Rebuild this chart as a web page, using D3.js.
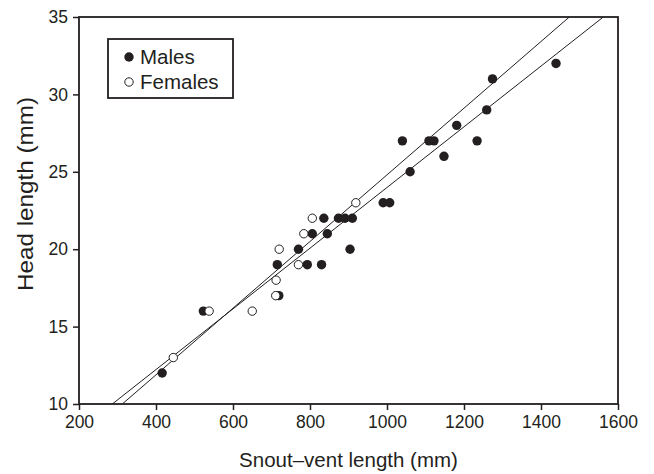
<!DOCTYPE html>
<html>
<head>
<meta charset="utf-8">
<script src="https://cdn.jsdelivr.net/npm/d3@7"></script>
<style>
  html, body { margin: 0; padding: 0; background: #fff; }
  svg { display: block; font-family: "Liberation Sans", Arial, Helvetica, sans-serif; }
</style>
</head>
<body>
<svg id="chart" width="654" height="474"></svg>
<script>
// ---- data ----
const malesSVL  = [416, 523, 719, 715, 770, 793, 830, 806, 845, 836, 874, 891, 910, 904, 990, 1007, 1060, 1040, 1109, 1122, 1148, 1181, 1234, 1259, 1274, 1439];
const malesHL   = [12,  16,  17,  19,  20,  19,  19,  21,  21,  22,  22,  22,  22,  20,  23,  23,   25,   27,   27,   27,   26,   28,   27,   29,   31,   32];
const femalesSVL = [445, 538, 650, 711, 712, 720, 770, 784, 806, 919];
const femalesHL  = [13,  16,  16,  17,  18,  20,  19,  21,  22,  23];
// regression fits: head = intercept + slope * svl
const fitSlopes     = [0.021533, 0.019603];
const fitIntercepts = [3.271, 4.384];
const xTicks = [200, 400, 600, 800, 1000, 1200, 1400, 1600];
const yTicks = [10, 15, 20, 25, 30, 35];
const seriesNames = ["Males", "Females"];

// ---- layout ----
const ink = "#231f20";
const svg = d3.select("#chart");
const L = 79, R = 618, T = 17, B = 404;
const x = d3.scaleLinear().domain([200, 1600]).range([L, R]);
const y = d3.scaleLinear().domain([10, 35]).range([B, T]);

svg.append("defs").append("clipPath").attr("id", "plotclip")
  .append("rect").attr("x", L).attr("y", T).attr("width", R - L).attr("height", B - T);

// regression lines
const fits = fitSlopes.map((s, i) => ({ s, b: fitIntercepts[i] }));
const lineGen = d3.line().x(d => x(d[0])).y(d => y(d[1]));
svg.append("g").attr("clip-path", "url(#plotclip)")
  .selectAll("path").data(fits).join("path")
  .attr("d", f => {
    const x0 = (10 - f.b) / f.s, x1 = (35 - f.b) / f.s;
    return lineGen([[x0, 10], [x1, 35]]);
  })
  .attr("fill", "none").attr("stroke", ink).attr("stroke-width", 1);

// points
const males = malesSVL.map((v, i) => [v, malesHL[i]]);
const females = femalesSVL.map((v, i) => [v, femalesHL[i]]);
const r = 4.7;
svg.append("g").selectAll("circle").data(males).join("circle")
  .attr("cx", d => x(d[0])).attr("cy", d => y(d[1])).attr("r", r)
  .attr("fill", ink);
svg.append("g").selectAll("circle").data(females).join("circle")
  .attr("cx", d => x(d[0])).attr("cy", d => y(d[1])).attr("r", r - 0.5)
  .attr("fill", "#fff").attr("stroke", ink).attr("stroke-width", 1);

// axes
const xAxis = svg.append("g").attr("transform", `translate(0,${B})`)
  .call(d3.axisBottom(x).tickValues(xTicks).tickSize(6).tickPadding(6).tickFormat(d3.format("d")));
const yAxis = svg.append("g").attr("transform", `translate(${L},0)`)
  .call(d3.axisLeft(y).tickValues(yTicks).tickSize(6).tickPadding(5).tickFormat(d3.format("d")));
[xAxis, yAxis].forEach(g => {
  g.select(".domain").remove();
  g.selectAll(".tick line").attr("stroke", ink).attr("stroke-width", 1.5);
  g.selectAll(".tick text").attr("fill", ink).style("font-size", "17.5px").style("font-family", "Liberation Sans, Arial, sans-serif");
});

// frame
svg.append("rect").attr("x", L).attr("y", T).attr("width", R - L).attr("height", B - T)
  .attr("fill", "none").attr("stroke", ink).attr("stroke-width", 1.8);

// axis titles
svg.append("text").attr("x", (L + R) / 2).attr("y", 467).attr("text-anchor", "middle")
  .attr("fill", ink).style("font-size", "20.5px").text("Snout\u2013vent length (mm)");
svg.append("text").attr("transform", "translate(33,194) rotate(-90)").attr("text-anchor", "middle")
  .attr("fill", ink).style("font-size", "21.5px")
  .attr("textLength", 194).attr("lengthAdjust", "spacingAndGlyphs")
  .text("Head length (mm)");

// legend
const lg = svg.append("g");
lg.append("rect").attr("x", 108).attr("y", 39).attr("width", 125).attr("height", 59)
  .attr("fill", "#fff").attr("stroke", ink).attr("stroke-width", 1.8);
seriesNames.forEach((name, i) => {
  const cy = 57 + i * 25;
  lg.append("circle").attr("cx", 129).attr("cy", cy).attr("r", i === 0 ? r : r - 0.5)
    .attr("fill", i === 0 ? ink : "#fff").attr("stroke", i === 0 ? "none" : ink).attr("stroke-width", 1);
  lg.append("text").attr("x", 140).attr("y", cy + 7).attr("fill", ink)
    .style("font-size", "20.5px").text(name);
});
</script>
</body>
</html>
